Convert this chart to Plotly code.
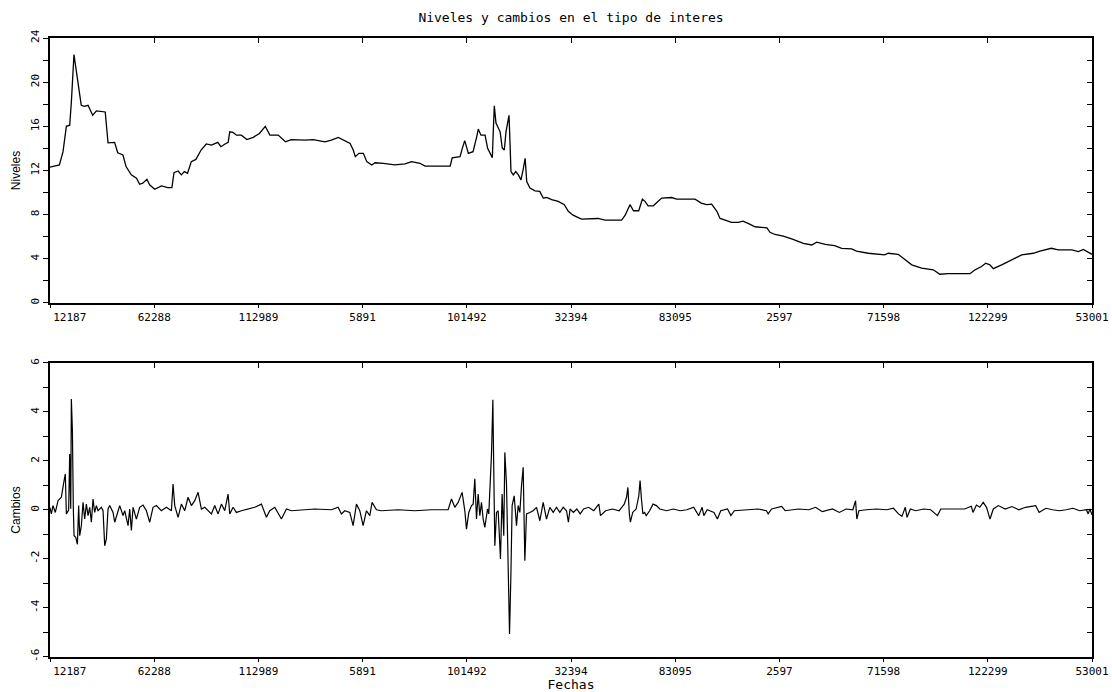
import plotly.graph_objects as go

# ---------------- data ----------------
x_tick_pos = [0, 100, 200, 300, 400, 500, 600, 700, 800, 900, 1000]
x_label_pos = [19, 100, 200, 300, 400, 500, 600, 700, 800, 900, 1000]
x_tick_labels = ["12187", "62288", "112989", "5891", "101492", "32394",
                 "83095", "2597", "71598", "122299", "53001"]

niv_ticks = [0, 2, 4, 6, 8, 10, 12, 14, 16, 18, 20, 22, 24]
niv_labels = ["0", "", "4", "", "8", "", "12", "", "16", "", "20", "", "24"]
cam_ticks = [-6, -5, -4, -3, -2, -1, 0, 1, 2, 3, 4, 5, 6]
cam_labels = ["-6", "", "-4", "", "-2", "", "0", "", "2", "", "4", "", "6"]

niveles_t = [0, 3, 9, 12.5, 15.7, 18.9, 20.5, 23, 24.3, 26, 28.5, 30, 33, 36.5, 41, 44.5,
             53, 55.7, 62, 65, 70, 73, 78, 83, 86, 89, 93, 95.6, 100.5, 107, 113, 117,
             119, 123, 126, 129, 132, 135.6, 140, 145, 150, 155, 161, 164, 168, 171,
             172.5, 175.6, 179, 183.6, 189, 195, 201, 206.6, 211, 219, 226, 231.6,
             244.7, 252.7, 264, 270, 276.7, 281.5, 288, 291, 293, 296.5, 300.7, 304,
             308.7, 312, 320, 331, 340.7, 347, 355, 360, 372.7, 384, 386, 393.5, 395.7,
             398, 401.5, 406, 409.5, 411, 413.6, 417.5, 420, 422, 424.5, 425.4, 426.4,
             428, 432, 434, 436, 437.6, 439, 440.5, 441.5, 442.4, 444.6, 447, 449.5,
             452, 454, 456, 457.5, 460.6, 465.5, 470, 473.4, 476.6, 481.5, 487.8, 493.6,
             497.4, 502, 510, 526, 532.6, 548.6, 552, 556.6, 560, 565, 568.5, 571, 574,
             579, 587, 596.6, 601.4, 619, 625, 630, 635, 640, 643, 648, 654, 660.5, 665,
             670, 676.6, 688, 691, 695.8, 703.7, 711.8, 723, 731, 735.8, 744, 753, 759.8,
             769.4, 774, 785.3, 801, 804.5, 814, 820.5, 827, 836.5, 847.7, 854, 862, 883,
             887.7, 894, 898, 902, 905.3, 913.3, 923, 932.5, 943.7, 950, 961, 967.6,
             980.5, 987, 991.7, 997.4, 1000]
niveles_v = [12.3, 12.35, 12.5, 13.7, 16.0, 16.1, 18.2, 22.5, 21.6, 20.7, 19.0, 17.9, 17.8,
             17.9, 17.0, 17.4, 17.3, 14.5, 14.55, 13.6, 13.4, 12.35, 11.6, 11.3, 10.75,
             10.85, 11.2, 10.7, 10.3, 10.6, 10.45, 10.45, 11.8, 11.95, 11.6, 11.9, 11.75,
             12.8, 13.0, 13.85, 14.4, 14.3, 14.55, 14.15, 14.4, 14.55, 15.5, 15.45, 15.2,
             15.2, 14.8, 15.0, 15.35, 16.0, 15.2, 15.2, 14.6, 14.8, 14.75, 14.8, 14.6,
             14.75, 15.0, 14.75, 14.45, 13.85, 13.25, 13.55, 13.55, 12.8, 12.5, 12.7,
             12.65, 12.5, 12.6, 12.8, 12.65, 12.4, 12.4, 12.4, 13.15, 13.25, 14.0, 14.7,
             13.55, 13.7, 15.05, 15.75, 15.2, 15.2, 14.0, 13.55, 13.15, 15.5, 17.85, 16.3,
             15.5, 14.05, 13.85, 15.5, 16.35, 17.0, 14.45, 11.9, 11.6, 11.9, 11.6, 11.15,
             12.05, 13.1, 11.0, 10.4, 10.15, 10.1, 9.5, 9.55, 9.35, 9.2, 8.9, 8.3, 7.95,
             7.6, 7.65, 7.5, 7.5, 7.95, 8.9, 8.35, 8.35, 9.4, 9.2, 8.8, 8.8, 9.5, 9.55,
             9.4, 9.4, 9.05, 8.9, 8.95, 8.3, 7.65, 7.5, 7.3, 7.3, 7.4, 7.2, 6.9, 6.8, 6.4,
             6.2, 6.05, 5.8, 5.4, 5.25, 5.5, 5.3, 5.2, 4.95, 4.9, 4.7, 4.5, 4.35, 4.5, 4.4,
             3.9, 3.45, 3.15, 3.0, 2.6, 2.65, 2.65, 3.0, 3.3, 3.6, 3.45, 3.1, 3.45, 3.9,
             4.35, 4.5, 4.7, 4.95, 4.8, 4.8, 4.65, 4.85, 4.5, 4.4]

cambios_t = [0, 1.3, 2.9, 5.1, 7.7, 10.9, 13.1, 14.7, 15.7, 17.9, 18.9, 19.9, 20.5, 21.5,
             22.4, 23.1, 24.7, 26.3, 27.5, 28.5, 30.1, 31.7, 33.3, 34.9, 36.5, 38.1, 39.7,
             41.3, 42.9, 44.5, 46.1, 49.3, 50.9, 52.5, 54.1, 55.7, 57.3, 60.5, 62.1, 65.3,
             66.9, 70.1, 71.7, 74.9, 76.5, 78.1, 79.7, 82.9, 86.1, 89.3, 92.5, 95.7, 98.9,
             102.1, 106.9, 111.7, 116.5, 118.1, 119.7, 122.9, 126.1, 129.3, 132.5, 135.7,
             138.9, 142.1, 145.3, 148.5, 151.7, 154.9, 158.1, 161.3, 164.5, 167.7, 170.9,
             172.5, 175.7, 178.9, 183.7, 190.1, 196.5, 202.9, 207.7, 210.9, 215.7, 222.1,
             226.9, 231.7, 241.3, 254.1, 270.1, 276.5, 279.7, 282.9, 287.7, 290.9, 294.1,
             297.3, 300.5, 303.7, 306.9, 309.1, 313.3, 318.1, 334.1, 350.1, 366.1, 382.1,
             385.3, 388.5, 391.7, 395.5, 398.1, 399.7, 401.9, 404.5, 406.1, 407.7, 409.3,
             410.9, 412.5, 414.1, 415.7, 417.3, 419.9, 421.1, 423.7, 425.0, 425.9, 426.9,
             428.5, 430.1, 432.3, 433.9, 435.5, 436.5, 438.1, 439.7, 441.0, 442.3, 443.5,
             445.5, 447.7, 449.3, 450.9, 452.5, 454.1, 455.7, 457.3, 460.5, 463.7, 466.9,
             470.1, 473.3, 476.5, 479.7, 482.9, 486.1, 489.3, 492.5, 495.7,
             497.5, 499.1, 502.3, 505.6, 508.8, 512.1, 516.9, 521.8, 526.7, 528.3, 533.2,
             539.7, 546.2, 551.1, 553.3, 554.6, 556.0, 557.0, 559.2, 562.5, 565.1, 566.3,
             567.6, 569.0, 570.6, 572.2, 575.5, 578.7, 582.0, 585.2, 591.7, 598.2, 604.7,
             611.2, 617.7, 622.6, 625.8, 627.5, 630.7, 637.2, 640.5, 643.7, 650.2, 653.5,
             656.7, 666.5, 679.5, 687.6, 689.2, 692.5, 702.2, 705.5, 718.5, 728.2, 734.7,
             741.2, 751.0, 757.5, 764.0, 770.5, 773.1, 774.3, 776.3, 783.5, 793.2, 803.0,
             809.5, 814.3, 817.6, 820.8, 822.5, 825.7, 830.6, 838.7, 845.2, 851.7, 854.9,
             867.9, 877.7, 884.2, 885.8, 889.1, 892.3, 895.6, 898.8, 902.1, 905.3, 910.2,
             916.7, 923.2, 929.7, 936.2, 946.0, 949.2, 955.7, 962.2, 968.7, 975.2, 981.7,
             988.2, 994.7, 996.3, 998.0, 1000]
cambios_v = [0.1, -0.16, 0.18, -0.10, 0.38, 0.52, 1.10, 1.47, -0.16, 0.0, 2.28, 0.05, 4.53,
             3.24, 0.04, -1.05, -1.12, -1.40, 0.18, -1.05, -0.64, 0.31, -0.37, 0.24, -0.23,
             0.11, -0.50, 0.45, -0.10, 0.18, -0.03, 0.11, -0.03, -1.46, -1.18, 0.04, 0.18,
             -0.10, -0.50, -0.03, 0.18, -0.23, -0.03, -0.64, 0.04, -0.84, 0.11, -0.37, 0.11,
             0.20, -0.03, -0.50, 0.11, 0.18, -0.03, 0.11, -0.03, 1.06, 0.18, -0.30, 0.24,
             -0.03, 0.52, 0.18, 0.38, 0.72, 0.04, 0.11, -0.03, -0.16, 0.18, -0.16, 0.24,
             -0.03, 0.65, -0.16, 0.11, -0.10, -0.03, 0.04, 0.11, 0.24, -0.30, -0.03, 0.11,
             -0.37, 0.04, -0.03, 0.01, 0.04, 0.01, 0.11, -0.16, -0.03, -0.10, -0.64, 0.24,
             -0.03, -0.64, -0.03, -0.23, 0.31, 0.01, -0.03, 0.01, -0.03, 0.01, 0.01, 0.45,
             0.11, 0.31, 0.72, -0.03, -0.78, -0.10, 0.18, 0.24, 1.27, -0.37, 0.65, -0.23,
             0.31, -0.37, -0.71, 0.04, -0.16, 2.28, 4.50, 1.54, -1.46, -0.10, -0.03, -2.00,
             0.65, -1.05, 2.35, 1.06, -1.80, -5.06, -2.68, 0.18, 0.58, -0.64, 0.18, -0.10,
             0.99, 1.74, -2.07, -0.16, -0.10, -0.03, 0.11, -0.44, 0.31, -0.37, 0.11, -0.10,
             0.11, -0.10, 0.11, -0.03,
             -0.50, 0.04, -0.10, 0.04, -0.16, 0.04, 0.11, -0.03, 0.24, -0.23, -0.03, 0.04,
             -0.03, 0.24, 0.52, 0.92, -0.16, -0.50, -0.10, 0.04, 0.58, 1.20, 0.45, -0.16,
             -0.10, -0.23, -0.03, 0.24, 0.18, 0.04, -0.03, 0.04, -0.03, 0.01, 0.11, -0.23,
             0.11, -0.23, 0.01, -0.10, -0.37, -0.03, 0.04, -0.23, -0.03, 0.01, 0.04, -0.03,
             -0.16, 0.04, 0.15, -0.03, 0.04, 0.01, 0.11, -0.07, 0.04, -0.10, 0.04, 0.01,
             0.38, -0.37, -0.03, 0.01, 0.04, 0.01, 0.07, -0.16, -0.26, 0.11, -0.30, 0.04,
             -0.03, 0.04, 0.01, -0.23, 0.04, 0.04, 0.04, 0.15, -0.10, 0.20, 0.11, 0.31,
             0.11, -0.37, 0.04, 0.18, 0.04, 0.14, 0.01, 0.11, 0.18, -0.10, 0.07, 0.01,
             -0.03, 0.01, 0.07, -0.03, 0.01, -0.16, 0.04, -0.2]

# ---------------- styling ----------------
mono = "DejaVu Sans Mono, Liberation Mono, monospace"
sans = "Liberation Sans, Arial, sans-serif"
tickfont = dict(family=mono, size=11, color="black")
axis_line = dict(showline=True, linewidth=2, linecolor="black", showgrid=False,
                 zeroline=False, automargin=False)
no_line = dict(showline=False, showgrid=False, zeroline=False, automargin=False)

fig = go.Figure()
fig.add_trace(go.Scatter(x=niveles_t, y=niveles_v, mode="lines",
                         line=dict(color="black", width=1.3), xaxis="x", yaxis="y",
                         showlegend=False, hoverinfo="skip"))
fig.add_trace(go.Scatter(x=cambios_t, y=cambios_v, mode="lines",
                         line=dict(color="black", width=1.2), xaxis="x2", yaxis="y2",
                         showlegend=False, hoverinfo="skip"))
# empty helper traces so the extra frame / label axes get drawn
for xa, ya, src_x, src_y in [("x3", "y3", niveles_t, niveles_v),
                             ("x4", "y4", cambios_t, cambios_v),
                             ("x5", "y", niveles_t, niveles_v),
                             ("x6", "y2", cambios_t, cambios_v)]:
    fig.add_trace(go.Scatter(x=src_x[:1], y=src_y[:1], mode="none", xaxis=xa, yaxis=ya,
                             showlegend=False, hoverinfo="skip"))

top_dom = [0.572, 1.0]
bot_dom = [0.0, 0.475]


def label_axis(over, anchor):
    # labels only; invisible ticks just push the labels clear of the real tick marks
    return dict(overlaying=over, side="bottom", anchor=anchor, range=[0, 1000],
                tickvals=x_label_pos, ticktext=x_tick_labels, ticks="outside", ticklen=4,
                tickcolor="rgba(0,0,0,0)", tickfont=tickfont, **no_line)


fig.update_layout(
    width=1112, height=692,
    margin=dict(l=50, r=20, t=38, b=35),
    paper_bgcolor="white", plot_bgcolor="white",
    title=dict(text="Niveles y cambios en el tipo de interes", x=0.5135, xanchor="center",
               y=1 - 17 / 692, yanchor="middle", yref="container",
               font=dict(family=mono, size=13, color="black")),
    # top panel
    xaxis=dict(domain=[0, 1], anchor="y", range=[0, 1000], tickvals=x_tick_pos,
               ticks="outside", ticklen=3, tickcolor="black", showticklabels=False,
               **axis_line),
    xaxis5=label_axis("x", "y"),
    yaxis=dict(domain=top_dom, anchor="x", range=[0, 24], tickvals=niv_ticks,
               ticktext=niv_labels, tickangle=-90, ticks="outside", ticklen=5,
               tickcolor="black", tickfont=tickfont,
               title=dict(text="Niveles", standoff=5,
                          font=dict(family=sans, size=12, color="black")),
               **axis_line),
    xaxis3=dict(overlaying="x", side="top", anchor="y", range=[0, 1000], tickvals=x_tick_pos,
                ticks="inside", ticklen=5, tickcolor="black", showticklabels=False,
                **axis_line),
    yaxis3=dict(overlaying="y", side="right", anchor="x3", range=[0, 24], tickvals=niv_ticks,
                ticks="inside", ticklen=5, tickcolor="black", showticklabels=False,
                **axis_line),
    # bottom panel
    xaxis2=dict(domain=[0, 1], anchor="y2", range=[0, 1000], tickvals=x_tick_pos,
                ticks="outside", ticklen=3, tickcolor="black", showticklabels=False,
                **axis_line),
    xaxis6=dict(label_axis("x2", "y2"),
                title=dict(text="Fechas", standoff=2,
                           font=dict(family=mono, size=13, color="black"))),
    yaxis2=dict(domain=bot_dom, anchor="x2", range=[-6, 6], tickvals=cam_ticks,
                ticktext=cam_labels, tickangle=-90, ticks="outside", ticklen=5,
                tickcolor="black", tickfont=tickfont,
                title=dict(text="Cambios", standoff=5,
                           font=dict(family=sans, size=12, color="black")),
                **axis_line),
    xaxis4=dict(overlaying="x2", side="top", anchor="y2", range=[0, 1000], tickvals=x_tick_pos,
                ticks="inside", ticklen=5, tickcolor="black", showticklabels=False,
                **axis_line),
    yaxis4=dict(overlaying="y2", side="right", anchor="x4", range=[-6, 6], tickvals=cam_ticks,
                ticks="inside", ticklen=5, tickcolor="black", showticklabels=False,
                **axis_line),
)

# remove the browser's default 8px body margin so the 1112x692 figure fills the window
fig.write_html("out.html", config={"displayModeBar": False}, post_script=(
    "document.body.style.margin='0px';"
    "document.body.style.overflow='hidden';"
    "document.documentElement.style.overflow='hidden';"))
